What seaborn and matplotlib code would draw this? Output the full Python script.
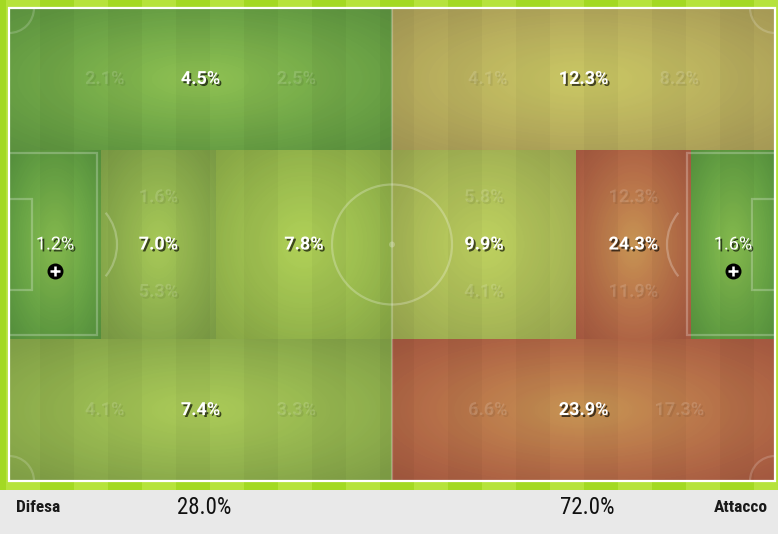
import numpy as np
import matplotlib
matplotlib.use("Agg")
import matplotlib.pyplot as plt
import matplotlib.patheffects as pe
from matplotlib.patches import Rectangle, Ellipse, Arc
from matplotlib.colors import LinearSegmentedColormap
from matplotlib import font_manager as fm
import seaborn as sns

# zones on a 0-100 pitch (x = length, y = width, top = 0)
band_edges = [0, 30, 70, 100]
top_edges = [0, 50, 100]
top_vals = [4.5, 12.3]
top_parts = [(2.1, 2.5), (4.1, 8.2)]
mid_edges = [0, 12, 27, 50, 74, 89, 100]
mid_vals = [1.2, 7.0, 7.8, 9.9, 24.3, 1.6]
mid_parts = [None, (1.6, 5.3), None, (5.8, 4.1), (12.3, 11.9), None]
bot_edges = [0, 50, 100]
bot_vals = [7.4, 23.9]
bot_parts = [(4.1, 3.3), (6.6, 17.3)]
half_names = ["Difesa", "Attacco"]
half_vals = [28.0, 72.0]

bands = [(top_edges, top_vals, top_parts, "x"),
         (mid_edges, mid_vals, mid_parts, "y"),
         (bot_edges, bot_vals, bot_parts, "x")]

names = {f.name for f in fm.fontManager.ttflist}
font = "Roboto" if "Roboto" in names else "DejaVu Sans"
cond = font
for c in ["Roboto Condensed", "Liberation Sans Narrow"]:
    if c in names:
        cond = c
        break

# value grid for the heatmap, one cell per pitch unit
grid = np.zeros((100, 100))
for b, (edges, vals, _, _) in enumerate(bands):
    for i, v in enumerate(vals):
        grid[band_edges[b]:band_edges[b + 1], edges[i]:edges[i + 1]] = v

cmap = LinearSegmentedColormap.from_list("pitch", [
    (0.0, "#5c9f43"), (4.5 / 25, "#68a447"), (7.2 / 25, "#8daf4f"),
    (7.8 / 25, "#98bb4e"), (9.9 / 25, "#abbb59"), (12.3 / 25, "#bbad60"),
    (24.1 / 25, "#b86348"), (1.0, "#b86348")])

W, H = 778, 534
PX, PY, PW, PH = 9, 8, 766, 473
fig = plt.figure(figsize=(W / 100, H / 100), dpi=100)

# background: lime frame with stripes, grey footer
bg = fig.add_axes([0, 0, 1, 1])
bg.set_xlim(0, W)
bg.set_ylim(H, 0)
bg.axis("off")
bg.add_patch(Rectangle((0, 0), W, 490, color="#b6e33c", lw=0))
stripe = 34
for k in range(-1, 25):
    if k % 2:
        bg.add_patch(Rectangle((6 + stripe * k, 0), stripe, 490, color="#a3d923", lw=0))
bg.add_patch(Rectangle((0, 490), W, H - 490, color="#e9e9e9", lw=0))

ax = fig.add_axes([PX / W, 1 - (PY + PH) / H, PW / W, PH / H])
sns.heatmap(grid, ax=ax, cmap=cmap, vmin=0, vmax=25, cbar=False,
            xticklabels=False, yticklabels=False)

# radial light in each zone
yy, xx = np.mgrid[0:PH, 0:PW]
ux = (xx + 0.5) / PW * 100
uy = (yy + 0.5) / PH * 100
r = np.zeros_like(ux)
for b, (edges, vals, _, _) in enumerate(bands):
    y0, y1 = band_edges[b], band_edges[b + 1]
    for i in range(len(vals)):
        x0, x1 = edges[i], edges[i + 1]
        m = (ux >= x0) & (ux < x1) & (uy >= y0) & (uy < y1)
        dx = (ux - (x0 + x1) / 2) / ((x1 - x0) / 2)
        dy = (uy - (y0 + y1) / 2) / ((y1 - y0) / 2)
        r[m] = np.clip(np.sqrt(dx[m] ** 2 + dy[m] ** 2) / np.sqrt(2), 0, 1)
light = np.zeros((PH, PW, 4))
light[..., :3] = (0.9, 1.0, 0.42)
light[..., 3] = 0.32 * (1 - r) ** 1.4
dark = np.zeros((PH, PW, 4))
dark[..., 3] = 0.12 * r ** 2
ax.imshow(light, extent=(0, 100, 100, 0), aspect="auto", zorder=2)
ax.imshow(dark, extent=(0, 100, 100, 0), aspect="auto", zorder=2)

# grass stripes
sw = stripe / PW * 100
for k in range(0, 25):
    if k % 2:
        ax.axvspan((6 - PX) / PW * 100 + sw * k, (6 - PX) / PW * 100 + sw * (k + 1),
                   color="black", alpha=0.03, lw=0, zorder=2)

ax.set_xlim(0, 100)
ax.set_ylim(100, 0)

# pitch lines
sx, sy = PW / 100, PH / 100
lc = dict(color="white", alpha=0.25, lw=1.6, fill=False, zorder=3)
ax.plot([50, 50], [0, 100], color="white", alpha=0.25, lw=1.6, zorder=3)
ax.add_patch(Ellipse((50, 50), 120 / sx, 120 / sy, **lc))
ax.add_patch(Ellipse((50, 50), 6 / sx, 6 / sy, color="white", alpha=0.25, lw=0, zorder=3))
for side in (0, 1):
    box = 88 / sx
    ga = 23 / sx
    bx = 0 if side == 0 else 100 - box
    gx = 0 if side == 0 else 100 - ga
    ax.add_patch(Rectangle((bx, 30.7), box, 38.4, **lc))
    ax.add_patch(Rectangle((gx, 40.4), ga, 19.2, **lc))
    spot = 58 / sx if side == 0 else 100 - 58 / sx
    t1, t2 = (-53.1, 53.1) if side == 0 else (126.9, 233.1)
    ax.add_patch(Arc((spot, 50), 100 / sx, 100 / sy, theta1=t1, theta2=t2,
                     color="white", alpha=0.25, lw=1.6, zorder=3))
for cx, cy in [(0, 0), (100, 0), (0, 100), (100, 100)]:
    ax.add_patch(Ellipse((cx, cy), 50 / sx, 50 / sy, **dict(lc, alpha=0.18)))
ax.add_patch(Rectangle((0, 0), 100, 100, fill=False, ec="white", lw=1.6,
                       clip_on=False, zorder=5))

shadow = [pe.withSimplePatchShadow(offset=(1.4, -1.4), shadow_rgbFace="black", alpha=0.65)]
faint = [pe.withSimplePatchShadow(offset=(1.3, -1.3), shadow_rgbFace="black", alpha=0.07)]

for b, (edges, vals, parts, split) in enumerate(bands):
    y0, y1 = band_edges[b], band_edges[b + 1]
    cy = (y0 + y1) / 2
    for i, v in enumerate(vals):
        x0, x1 = edges[i], edges[i + 1]
        cx = (x0 + x1) / 2
        goal = parts[i] is None and (x0 == 0 or x1 == 100)
        ax.text(cx, cy, f"{v:.1f}%", ha="center", va="center", color="white",
                fontsize=13, family=font, weight="normal" if goal else "bold",
                path_effects=shadow, zorder=6)
        if goal:
            ax.scatter([cx], [cy + 5.6], s=110, color="black", zorder=6)
            ax.scatter([cx], [cy + 5.6], s=45, marker="+", color="white", lw=1.8, zorder=7)
        if parts[i] is not None:
            if split == "x":
                pos = [(x0 + (x1 - x0) / 4, cy), (x0 + 3 * (x1 - x0) / 4, cy)]
            else:
                pos = [(cx, y0 + (y1 - y0) / 4), (cx, y0 + 3 * (y1 - y0) / 4)]
            for (px, py), pv in zip(pos, parts[i]):
                ax.text(px, py, f"{pv:.1f}%", ha="center", va="center",
                        color=(1, 1, 1, 0.14), fontsize=13, family=font,
                        weight="bold", path_effects=faint, zorder=6)

# footer
fy = (507 - PY) / sy
ax.text((16 - PX) / sx, fy, half_names[0], ha="left", va="center", fontsize=12.5,
        family=cond, weight="bold", color="#1a1a1a", clip_on=False)
ax.text((768 - PX) / sx, fy, half_names[1], ha="right", va="center", fontsize=12.5,
        family=cond, weight="bold", color="#1a1a1a", clip_on=False)
for cx, v in zip([25.5, 75.5], half_vals):
    ax.text(cx, fy, f"{v:.1f}%", ha="center", va="center", fontsize=16.5,
            family=cond, color="#111111", clip_on=False)

fig.savefig("out.png", dpi=100)
